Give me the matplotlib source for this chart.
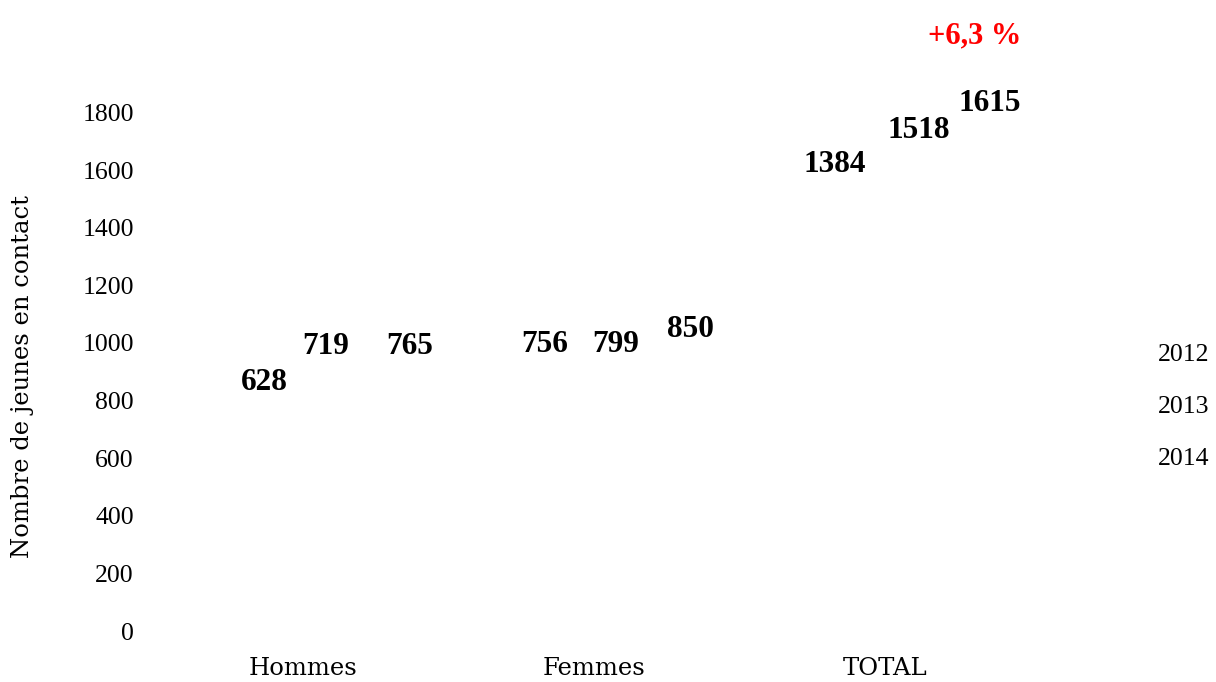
import numpy as np
import matplotlib
matplotlib.use("Agg")
import matplotlib.pyplot as plt
from matplotlib.patches import Patch

plt.rcParams['font.family'] = ['Liberation Serif', 'DejaVu Serif']
WORD_FONT = ['DejaVu Serif']

# --- données ---
categories = ['Hommes', 'Femmes', 'TOTAL']
years = ['2012', '2013', '2014']
v2012 = [628, 756, 1384]
v2013 = [719, 799, 1518]
v2014 = [765, 850, 1615]
variation = '+6,3 %'

# positions des étiquettes (décalage x par rapport au groupe, hauteur en unités y)
label_dx = [[-0.134, 0.078, 0.367], [-0.168, 0.073, 0.331], [-0.171, 0.118, 0.363]]
label_y = [[862, 987, 987], [994, 994, 1046], [1619, 1737, 1831]]

fig = plt.figure(figsize=(12.16, 6.82), dpi=100)
ax = fig.add_axes([158 / 1216, 1 - 631 / 682, 872 / 1216, 576 / 682])

x = np.arange(len(categories))
w = 0.25
series = [v2012, v2013, v2014]
handles = []
for i, (vals, yr) in enumerate(zip(series, years)):
    # barres blanches (invisibles sur fond blanc), comme dans l'original
    ax.bar(x + (i - 1) * w, vals, w, color='white', edgecolor='none', label=yr)
    handles.append(Patch(facecolor='white', edgecolor='none', label=yr))

for g in range(len(categories)):
    for i in range(3):
        ax.text(g + label_dx[g][i], label_y[g][i], str(series[i][g]),
                ha='center', va='center', fontsize=22.5, fontweight='bold')

ax.text(2 + 0.31, 2068, variation, ha='center', va='center', fontsize=22,
        fontweight='bold', color='red', clip_on=False)

ax.set_xlim(-0.5, 2.5)
ax.set_ylim(0, 2000)
ax.set_yticks(np.arange(0, 1801, 200))
ax.set_xticks(x)
ax.set_xticklabels(categories, fontsize=17.5, family=WORD_FONT)
ax.tick_params(axis='both', length=0)
ax.tick_params(axis='y', pad=17.5, labelsize=18.5)
ax.tick_params(axis='x', pad=19)
for s in ax.spines.values():
    s.set_visible(False)

ax.set_ylabel('Nombre de jeunes en contact', fontsize=17.5, family=WORD_FONT)
ax.yaxis.set_label_coords(-0.142, 0.441)

fig.legend(handles=handles, loc='upper left', bbox_to_anchor=(1135 / 1216, 1 - 320 / 682),
           frameon=False, fontsize=18.5, handlelength=0, handletextpad=0,
           labelspacing=1.12)

fig.savefig('out.png', dpi=100)
